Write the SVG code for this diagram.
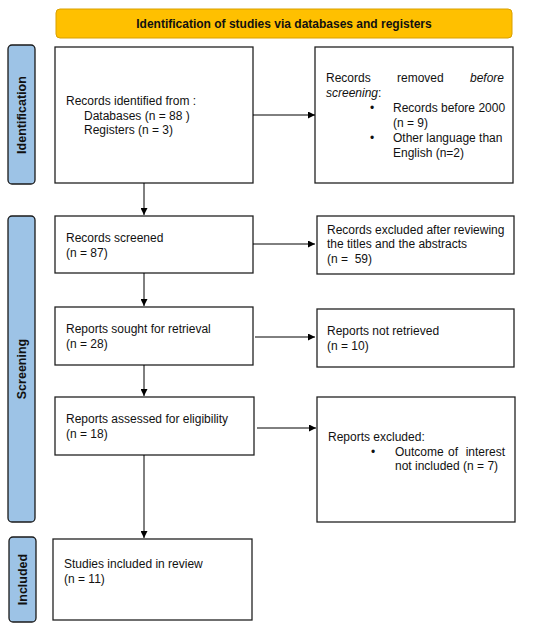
<svg xmlns="http://www.w3.org/2000/svg" width="550" height="628" viewBox="0 0 550 628">
<defs>
<marker id="ah" viewBox="0 0 10 10" refX="10" refY="5" markerWidth="7" markerHeight="7" orient="auto" markerUnits="userSpaceOnUse">
<path d="M0,0 L10,5 L0,10 z" fill="#000"/>
</marker>
</defs>
<style>
text{font-family:"Liberation Sans",Arial,sans-serif;font-size:12px;fill:#111}
.box{fill:#fff;stroke:#222;stroke-width:1.3}
.side{fill:#9DC3E6;stroke:#1a1a1a;stroke-width:1.3}
.sl{font-weight:bold;font-size:12.5px;text-anchor:middle}
.hd{fill:#FFC000;stroke:#D9A000;stroke-width:1}
.ht{font-weight:bold;font-size:12px;text-anchor:middle}
.it{font-style:italic}
.c{stroke:#000;stroke-width:1;fill:none}
</style>
<rect width="550" height="628" fill="#fff"/>
<g id="header">
<rect class="hd" x="56" y="9" width="456" height="29" rx="4"/>
<text class="ht" x="284" y="28">Identification of studies via databases and registers</text>
</g>
<g id="side-identification">
<rect class="side" x="8" y="45" width="27" height="139" rx="4"/>
<text class="sl" transform="translate(26,115) rotate(-90)">Identification</text>
</g>
<g id="side-screening">
<rect class="side" x="8" y="216" width="27" height="306" rx="4"/>
<text class="sl" transform="translate(26,369) rotate(-90)">Screening</text>
</g>
<g id="side-included">
<rect class="side" x="9" y="537" width="27" height="85" rx="4"/>
<text class="sl" transform="translate(27,579.5) rotate(-90)">Included</text>
</g>
<g id="identified">
<rect class="box" x="55" y="47" width="198" height="136"/>
<text x="66" y="105">Records identified from :</text>
<text x="84" y="120">Databases (n = 88 )</text>
<text x="84" y="134">Registers (n = 3)</text>
</g>
<g id="removed">
<rect class="box" x="315" y="47" width="198" height="136"/>
<text x="326" y="82">Records</text>
<text x="397" y="82">removed</text>
<text x="504" y="82" class="it" text-anchor="end">before</text>
<text x="326" y="97"><tspan class="it">screening</tspan>:</text>
<text x="370" y="112">•</text>
<text x="393" y="112">Records before 2000</text>
<text x="393" y="127">(n = 9)</text>
<text x="370" y="142">•</text>
<text x="393" y="142">Other language than</text>
<text x="393" y="157">English (n=2)</text>
</g>
<g id="screened">
<rect class="box" x="55" y="216" width="198" height="57"/>
<text x="66" y="242">Records screened</text>
<text x="66" y="257">(n = 87)</text>
</g>
<g id="excluded-screen">
<rect class="box" x="317" y="216" width="197" height="58"/>
<text x="327" y="234">Records excluded after reviewing</text>
<text x="327" y="248">the titles and the abstracts</text>
<text x="327" y="263" xml:space="preserve">(n =  59)</text>
</g>
<g id="sought">
<rect class="box" x="55" y="307" width="198" height="58"/>
<text x="66" y="333">Reports sought for retrieval</text>
<text x="66" y="348">(n = 28)</text>
</g>
<g id="not-retrieved">
<rect class="box" x="317" y="309" width="197" height="58"/>
<text x="327" y="335">Reports not retrieved</text>
<text x="327" y="350">(n = 10)</text>
</g>
<g id="eligibility">
<rect class="box" x="55" y="397" width="199" height="58"/>
<text x="66" y="423">Reports assessed for eligibility</text>
<text x="66" y="438">(n = 18)</text>
</g>
<g id="excluded-reports">
<rect class="box" x="317" y="397" width="198" height="125"/>
<text x="328" y="441">Reports excluded:</text>
<text x="371" y="456">•</text>
<text x="395" y="456">Outcome</text>
<text x="448" y="456">of</text>
<text x="505" y="456" text-anchor="end">interest</text>
<text x="395" y="470">not included (n = 7)</text>
</g>
<g id="included">
<rect class="box" x="53" y="539" width="199" height="81"/>
<text x="64" y="568">Studies included in review</text>
<text x="64" y="583">(n = 11)</text>
</g>
<g id="connectors">
<line class="c" x1="253" y1="115" x2="315" y2="115" marker-end="url(#ah)"/>
<line class="c" x1="144" y1="183" x2="144" y2="215" marker-end="url(#ah)"/>
<line class="c" x1="253" y1="244" x2="315" y2="244" marker-end="url(#ah)"/>
<line class="c" x1="144" y1="273" x2="144" y2="306" marker-end="url(#ah)"/>
<line class="c" x1="255" y1="337" x2="315" y2="337" marker-end="url(#ah)"/>
<line class="c" x1="144" y1="365" x2="144" y2="396" marker-end="url(#ah)"/>
<line class="c" x1="257" y1="428" x2="316" y2="428" marker-end="url(#ah)"/>
<line class="c" x1="144" y1="455" x2="144" y2="538" marker-end="url(#ah)"/>
</g>
</svg>
